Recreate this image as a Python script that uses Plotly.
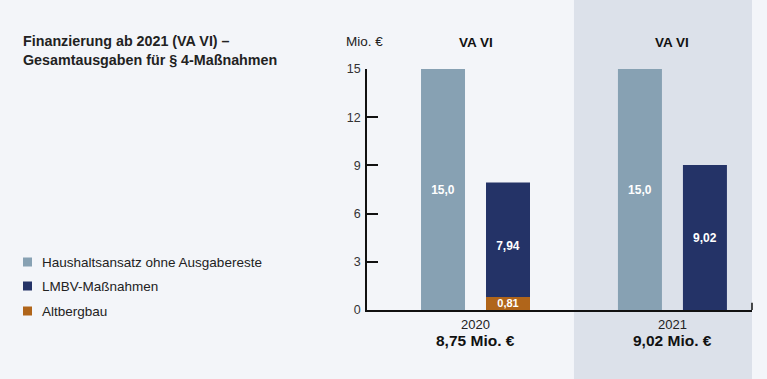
import plotly.graph_objects as go

years = ["2020", "2021"]
totals = ["8,75 Mio. €", "9,02 Mio. €"]
haushalt = [15.0, 15.0]
lmbv = [7.94, 9.02]
altbergbau = [0.81, 0.0]
haushalt_lbl = ["15,0", "15,0"]
lmbv_lbl = ["7,94", "9,02"]
alt_lbl = ["0,81", ""]
yticks = [0, 3, 6, 9, 12, 15]
legend_names = ["Haushaltsansatz ohne Ausgabereste", "LMBV-Maßnahmen", "Altbergbau"]
col_gray = "#87a1b3"
col_navy = "#243367"
col_orange = "#b0651a"

FONT = "Liberation Sans, Arial, Helvetica, sans-serif"
xs = [0, 1]
W = 0.2234

fig = go.Figure()
fig.add_bar(x=xs, y=haushalt, width=W, offset=-0.165 - W / 2, marker_color=col_gray,
            text=haushalt_lbl, textposition="inside", insidetextanchor="middle",
            textfont=dict(color="white", size=12, family=FONT), constraintext="none")
fig.add_bar(x=xs, y=lmbv, width=W, offset=0.165 - W / 2, marker_color=col_navy,
            text=lmbv_lbl, textposition="inside", insidetextanchor="middle",
            textfont=dict(color="white", size=12, family=FONT), constraintext="none")
fig.add_bar(x=xs, y=altbergbau, width=W, offset=0.165 - W / 2, marker_color=col_orange,
            text=alt_lbl, textposition="inside", insidetextanchor="middle",
            textfont=dict(color="white", size=11, family=FONT), constraintext="none")
for tr in fig.data:
    tr.texttemplate = "<b>%{text}</b>"
    tr.marker.line.width = 0
    tr.hoverinfo = "skip"

fig.update_layout(
    width=767, height=379,
    margin=dict(l=367, r=15, t=69, b=69),
    paper_bgcolor="#f3f5f9", plot_bgcolor="rgba(0,0,0,0)",
    barmode="overlay", showlegend=False,
    font=dict(family=FONT, color="#222"),
    xaxis=dict(range=[-0.551, 1.404], showgrid=False, zeroline=False, showline=True,
               linecolor="#111", linewidth=1.5, showticklabels=False, ticks=""),
    yaxis=dict(range=[0, 15], tickvals=yticks, showgrid=False, zeroline=False,
               showline=True, linecolor="#111", linewidth=1.5, ticks="inside",
               ticklen=11, tickcolor="#111", tickwidth=1.5,
               tickfont=dict(size=12.5, color="#333"), ticklabelstandoff=2),
)

# shaded 2021 panel
fig.add_shape(type="rect", xref="x", yref="paper", x0=0.5, x1=1.408, y0=-0.29, y1=1.29,
              fillcolor="#dce1ea", line_width=0, layer="below")
# small tick at right end of x axis
fig.add_shape(type="line", xref="paper", yref="y", x0=1, x1=1, y0=0, y1=0.45,
              line=dict(color="#111", width=1.5))

ann = []
for i, (yr, tot) in enumerate(zip(years, totals)):
    ann.append(dict(x=xs[i], y=-0.02, xref="x", yref="paper", yanchor="top", showarrow=False,
                    text=yr, font=dict(size=13, color="#222")))
    ann.append(dict(x=xs[i], y=-0.085, xref="x", yref="paper", yanchor="top", showarrow=False,
                    text="<b>" + tot + "</b>", font=dict(size=15.5, color="#111")))
    ann.append(dict(x=xs[i], y=1.112, xref="x", yref="paper", yanchor="middle", showarrow=False,
                    text="<b>VA VI</b>", font=dict(size=13.5, color="#111")))
fig.update_layout(annotations=ann)

# pixel helpers
def px_x(p):
    return (p - 367) / 385

def px_y(p):
    return (310 - p) / 241

fig.add_annotation(x=px_x(364), y=px_y(42), xref="paper", yref="paper", showarrow=False,
                   xanchor="center", yanchor="middle",
                   text="Mio. €", font=dict(size=13.5, color="#222"))
fig.add_annotation(x=px_x(21), y=px_y(50), xref="paper", yref="paper", xanchor="left",
                   yanchor="middle", align="left", showarrow=False,
                   text="<b>Finanzierung ab 2021 (VA VI) –<br>Gesamtausgaben für § 4-Maßnahmen</b>",
                   font=dict(size=14.3, color="#222"))

leg_cols = [col_gray, col_navy, col_orange]
leg_y = [262, 286, 311]
for name, c, yy in zip(legend_names, leg_cols, leg_y):
    fig.add_shape(type="rect", xref="paper", yref="paper", x0=px_x(23), x1=px_x(32),
                  y0=px_y(yy + 4.5), y1=px_y(yy - 4.5), fillcolor=c, line_width=0)
    fig.add_annotation(x=px_x(40), y=px_y(yy), xref="paper", yref="paper", xanchor="left",
                       yanchor="middle", showarrow=False, text=name,
                       font=dict(size=13.5, color="#222"))

fig.write_html("out.html", config={"displayModeBar": False},
               post_script="document.body.style.margin='0';document.body.style.padding='0';")
